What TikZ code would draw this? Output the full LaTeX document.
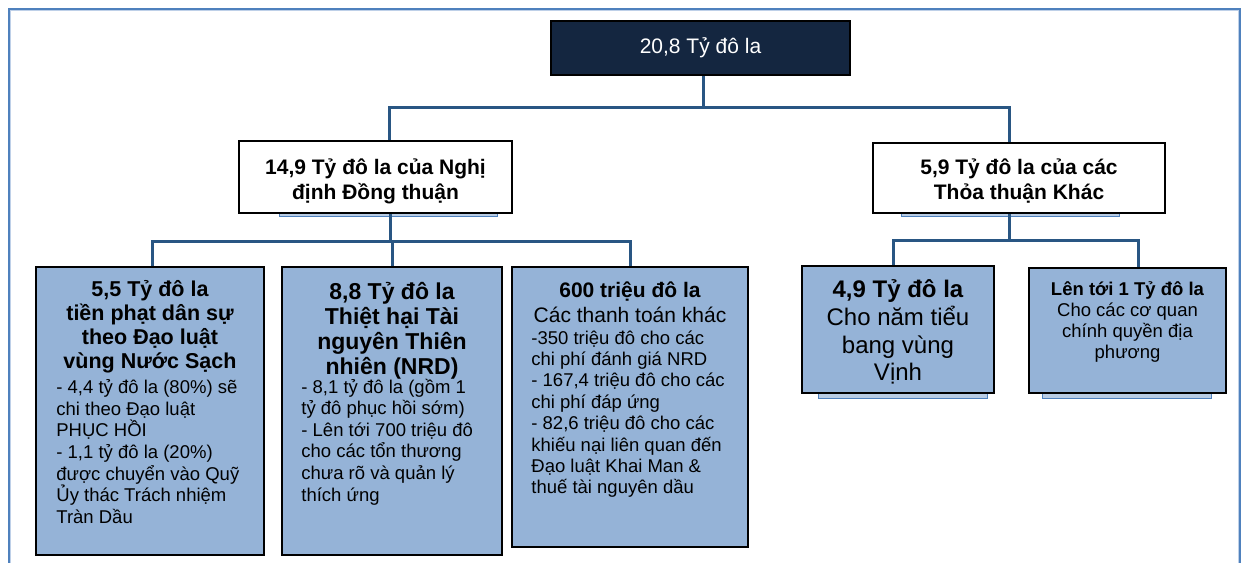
\documentclass[tikz,border=0pt]{standalone}
\usepackage{fontspec}
\setmainfont{Liberation Sans}

\definecolor{navy}{RGB}{20,38,64}
\definecolor{leafblue}{RGB}{149,179,215}
\definecolor{linkblue}{RGB}{41,86,131}
\definecolor{framebl}{RGB}{79,129,189}
\definecolor{framelt}{RGB}{190,208,232}
\definecolor{shadebl}{RGB}{184,204,228}

\begin{document}
\begin{tikzpicture}
[   x=1pt, y=-1pt,
    topbox/.style={draw=black,line width=1.6,fill=navy,inner sep=0},
    midbox/.style={draw=black,line width=1.6,fill=white,inner sep=0},
    leafbox/.style={draw=black,line width=1.6,fill=leafblue,inner sep=0},
    headtxt/.style={inner sep=0,align=center},
    bodytxt/.style={inner sep=0,align=left},
    conn/.style={draw=linkblue,line width=3},
    ledge/.style={draw=framebl,line width=0.8,fill=shadebl},
]
    \useasboundingbox (0,0) rectangle (1241,562);
    \clip (0,0) rectangle (1241,562);

%%%%%%%%%%%%%%%%%%%% FRAME %%%%%%%%%%%%%%%%%%%%%%%%%%%%%%%%%%%
    \draw[draw=framebl,line width=2] (8.5,600) |- (1239.5,8.5) -- (1239.5,600);
    \draw[draw=framelt,line width=1] (10,600) |- (1238,10) -- (1238,600);

    % ledges under some boxes
    \draw[ledge] (279,210) rectangle (497,216.5);
    \draw[ledge] (901,210) rectangle (1119,216.5);
    \draw[ledge] (818,390) rectangle (987,398);
    \draw[ledge] (1042,390) rectangle (1211,398.5);

%%%%%%%%%%%%%%%%%%%% TOTAL %%%%%%%%%%%%%%%%%%%%%%%%%%%%%%%%%%%
    \node[topbox,minimum width=299,minimum height=54] (total) at (700.5,48) {};
    \node[headtxt,text=white,font=\fontsize{21}{25}\selectfont] (totaltxt) at (total) {20,8 Tỷ đô la};

%%%%%%%%%%%%%%%%%%%% DECREE / OTHER %%%%%%%%%%%%%%%%%%%%%%%%%%%%%%%%%%%
    \node[midbox,minimum width=273,minimum height=72] (cons) at (375.5,177) {};
    \node[headtxt,font=\bfseries\fontsize{21}{25}\selectfont] (constxt) at ([yshift=-4]cons.center) {14,9 Tỷ đô la của Nghị\\định Đồng thuận};
    \node[midbox,minimum width=292,minimum height=70] (other) at (1019,178) {};
    \node[headtxt,font=\bfseries\fontsize{21}{25}\selectfont] (othertxt) at ([yshift=-3]other.center) {5,9 Tỷ đô la của các\\Thỏa thuận Khác};

    \coordinate (j0) at (703,107);
    \draw[conn] (total.south -| j0) -- (j0);
    \draw[conn] (cons.north -| 389,0) |- (j0) -| (other.north -| 1009,0);

%%%%%%%%%%%%%%%%%%%% DECREE PAYMENTS %%%%%%%%%%%%%%%%%%%%%%%%%%%%%%%%%%%
    \node[leafbox,minimum width=228,minimum height=288] (civil) at (150,411) {};
    \node[headtxt,font=\bfseries\fontsize{21.5}{24}\selectfont,anchor=north] (civilhead) at ([yshift=-14]civil.north)
        {5,5 Tỷ đô la\\tiền phạt dân sự\\theo Đạo luật\\vùng Nước Sạch};
    \node[bodytxt,font=\fontsize{18.5}{21.7}\selectfont,anchor=north west] (civilbody) at ([xshift=21,yshift=-113]civil.north west)
        {- 4,4 tỷ đô la (80\%) sẽ\\chi theo Đạo luật\\PHỤC HỒI\\- 1,1 tỷ đô la (20\%)\\được chuyển vào Quỹ\\Ủy thác Trách nhiệm\\Tràn Dầu};

    \node[leafbox,minimum width=220,minimum height=288] (nrd) at (392,411) {};
    \node[headtxt,font=\bfseries\fontsize{23}{25}\selectfont,anchor=north] (nrdhead) at ([yshift=-16]nrd.north)
        {8,8 Tỷ đô la\\Thiệt hại Tài\\nguyên Thiên\\nhiên (NRD)};
    \node[bodytxt,font=\fontsize{18.5}{21.6}\selectfont,anchor=north west] (nrdbody) at ([xshift=20,yshift=-112.5]nrd.north west)
        {- 8,1 tỷ đô la (gồm 1\\tỷ đô phục hồi sớm)\\- Lên tới 700 triệu đô\\cho các tổn thương\\chưa rõ và quản lý\\thích ứng};

    \node[leafbox,minimum width=236,minimum height=280] (pay) at (630,407) {};
    \node[headtxt,font=\fontsize{21}{25}\selectfont,anchor=north] (payhead) at ([yshift=-15]pay.north)
        {\textbf{600 triệu đô la}\\Các thanh toán khác};
    \node[bodytxt,font=\fontsize{18.5}{21.4}\selectfont,anchor=north west] (paybody) at ([xshift=20,yshift=-64]pay.north west)
        {-350 triệu đô cho các\\chi phí đánh giá NRD\\- 167,4 triệu đô cho các\\chi phí đáp ứng\\- 82,6 triệu đô cho các\\khiếu nại liên quan đến\\Đạo luật Khai Man \&\\thuế tài nguyên dầu};

    \coordinate (j1) at (390,241);
    \draw[conn] (cons.south -| j1) -- (j1);
    \draw[conn] ([xshift=2]civil.north) |- (j1) -| (pay.north);
    \draw[conn] (nrd.north) -- (nrd.north |- j1);

%%%%%%%%%%%%%%%%%%%% OTHER PAYMENTS %%%%%%%%%%%%%%%%%%%%%%%%%%%%%%%%%%%
    \node[leafbox,minimum width=192,minimum height=127] (gulf) at (898,329.5) {};
    \node[headtxt,font=\fontsize{24}{27.6}\selectfont,anchor=north] (gulfhead) at ([yshift=-14.6]gulf.north)
        {\textbf{4,9 Tỷ đô la}\\Cho năm tiểu\\bang vùng\\Vịnh};
    \node[leafbox,minimum width=197,minimum height=125] (local) at (1127.5,330.5) {};
    \node[headtxt,font=\fontsize{18.5}{21}\selectfont,anchor=north] (localhead) at ([yshift=-14.7]local.north)
        {\textbf{Lên tới 1 Tỷ đô la}\\Cho các cơ quan\\chính quyền địa\\phương};

    \coordinate (j2) at (1009,240);
    \draw[conn] (other.south -| j2) -- (j2);
    \draw[conn] ([xshift=-5]gulf.north) |- (j2) -| ([xshift=10.5]local.north);

\end{tikzpicture}
\end{document}
